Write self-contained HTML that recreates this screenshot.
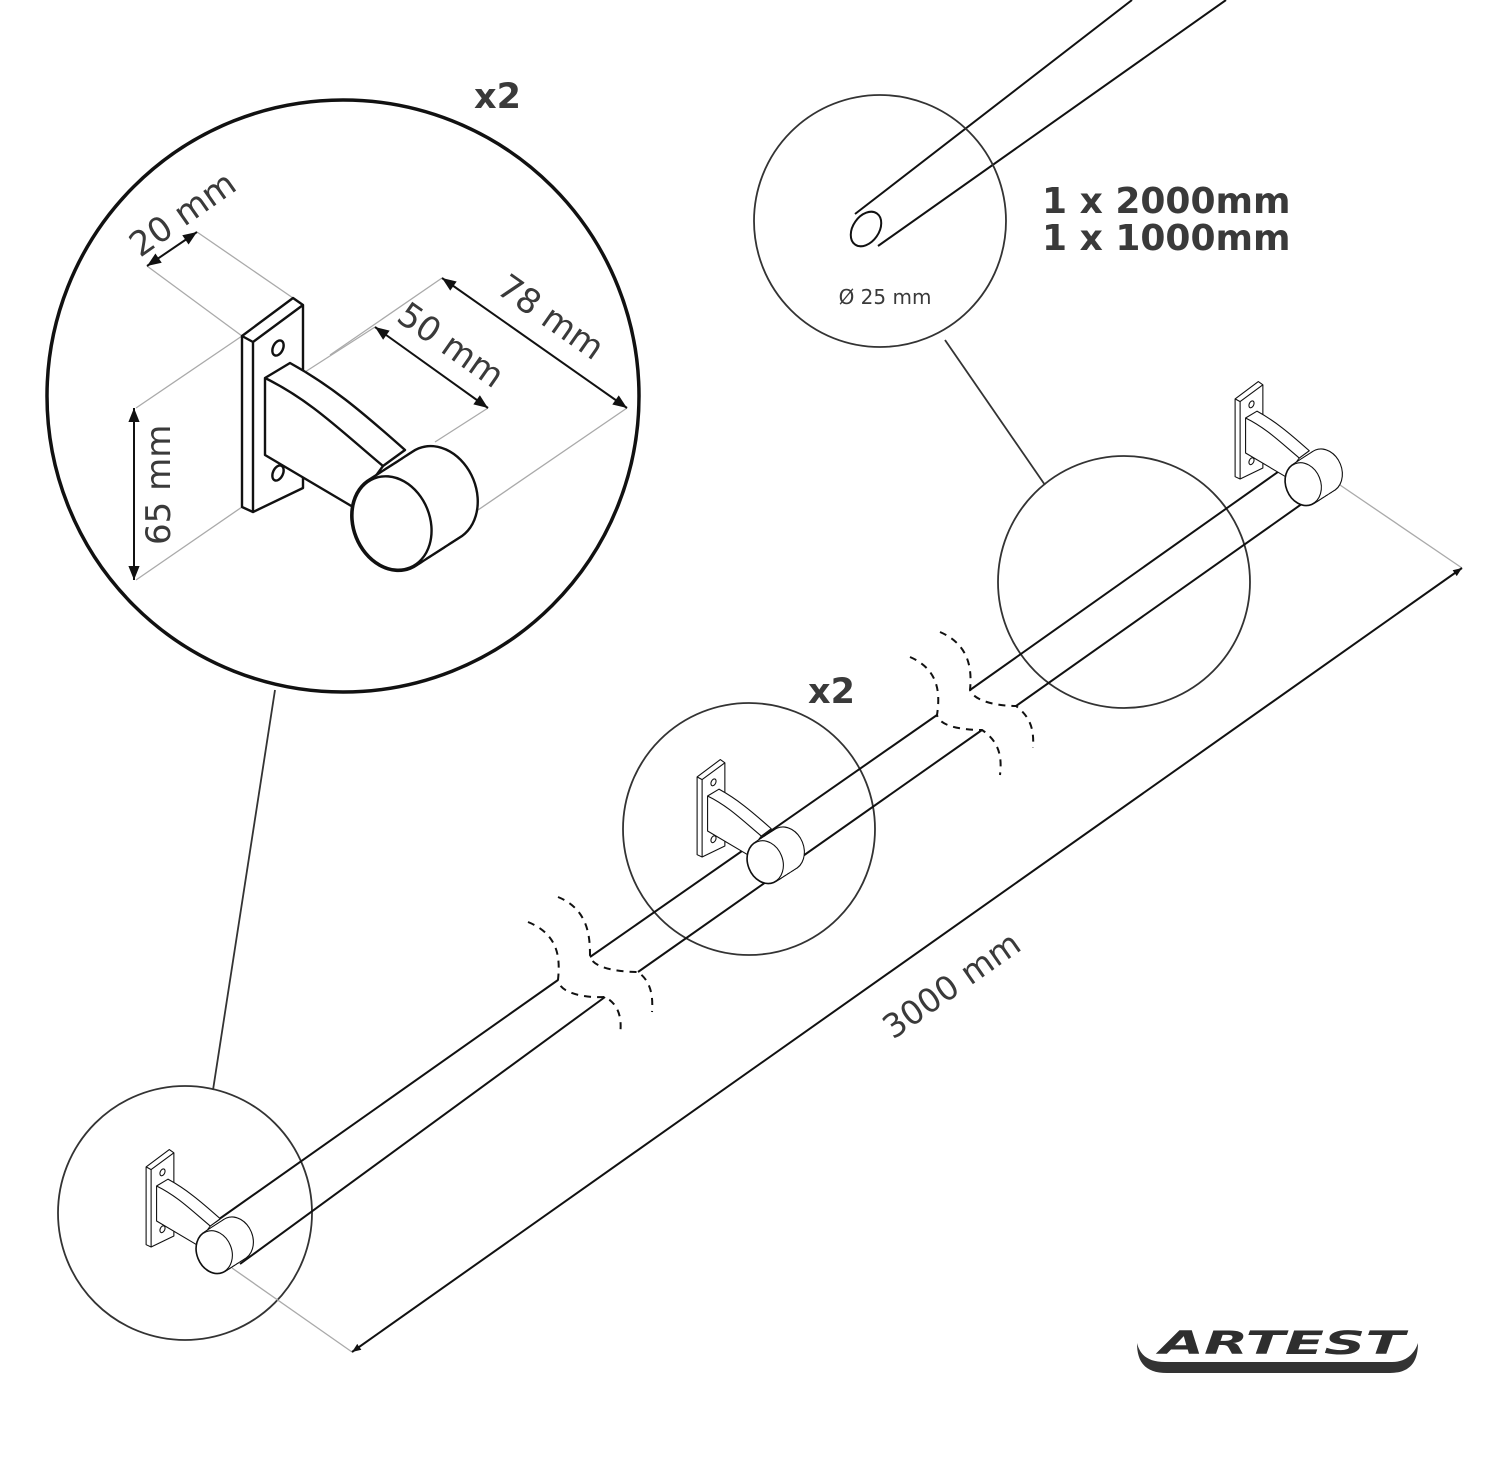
<!DOCTYPE html>
<html><head><meta charset="utf-8"><style>
html,body{margin:0;padding:0;background:#fff;}
svg{display:block}
text{font-family:"DejaVu Sans","Liberation Sans",sans-serif;fill:#3a3a3a}
</style></head><body>
<svg width="1500" height="1469" viewBox="0 0 1500 1469" xmlns="http://www.w3.org/2000/svg">
<defs>
<marker id="ar" viewBox="0 0 10 10" refX="10" refY="5" markerWidth="9" markerHeight="9" orient="auto-start-reverse" markerUnits="userSpaceOnUse"><path d="M0,1 L10,5 L0,9 Z" fill="#111"/></marker>
<marker id="ar2" viewBox="0 0 10 10" refX="10" refY="5" markerWidth="16" markerHeight="14" orient="auto-start-reverse" markerUnits="userSpaceOnUse"><path d="M0,1 L10,5 L0,9 Z" fill="#111"/></marker>
<g id="el"><ellipse cx="0" cy="0" rx="38" ry="48" transform="rotate(-22)"/></g>
<g id="br" fill="#fff" stroke="#111" stroke-width="2.4" stroke-linejoin="round">
  <path d="M242,336 L293,298 L303,305 L303,488 L253,512 L242,507 Z"/>
  <path d="M242,336 L253,342 L303,305 M253,342 L253,512" fill="none"/>
  <ellipse cx="278" cy="348" rx="5" ry="8" transform="rotate(25 278 348)"/>
  <ellipse cx="278" cy="473" rx="5" ry="8" transform="rotate(25 278 473)"/>
  <path d="M265,378 L290,363 C330,385 360,410 405,450 L383,466 L353,507 L265,455 Z"/>
  <path d="M265,378 C310,400 340,430 383,466" fill="none"/>
  <!-- ring: silhouette sweep -->
  <g stroke-width="4.8" fill="#fff">
    <use href="#el" x="437" y="494"/><use href="#el" x="432.5" y="496.9"/><use href="#el" x="428" y="499.8"/><use href="#el" x="423.5" y="502.7"/><use href="#el" x="419" y="505.6"/><use href="#el" x="414.5" y="508.5"/><use href="#el" x="410" y="511.4"/><use href="#el" x="405.5" y="514.3"/><use href="#el" x="401" y="517.2"/><use href="#el" x="396.5" y="520.1"/><use href="#el" x="392" y="523"/>
  </g>
  <g stroke="none" fill="#fff">
    <use href="#el" x="437" y="494"/><use href="#el" x="432.5" y="496.9"/><use href="#el" x="428" y="499.8"/><use href="#el" x="423.5" y="502.7"/><use href="#el" x="419" y="505.6"/><use href="#el" x="414.5" y="508.5"/><use href="#el" x="410" y="511.4"/><use href="#el" x="405.5" y="514.3"/><use href="#el" x="401" y="517.2"/><use href="#el" x="396.5" y="520.1"/>
  </g>
  <use href="#el" x="392" y="523"/>
</g>
</defs>

<!-- top rod -->
<g stroke="#111" stroke-width="2" fill="none">
<line x1="855" y1="214" x2="1132" y2="0"/>
<line x1="878" y1="246" x2="1226" y2="0"/>
<ellipse cx="866" cy="229" rx="13" ry="19" transform="rotate(35 866 229)" fill="#fff"/>
</g>
<circle cx="880" cy="221" r="126" fill="none" stroke="#333" stroke-width="1.8"/>
<text x="885" y="304" font-size="20" text-anchor="middle">Ø 25 mm</text>
<text x="1042" y="213" font-size="36" font-weight="bold">1 x 2000mm</text>
<text x="1042" y="250" font-size="36" font-weight="bold">1 x 1000mm</text>
<line x1="945" y1="340" x2="1045" y2="485" stroke="#333" stroke-width="1.8"/>

<!-- big circle -->
<circle cx="343" cy="396" r="296" fill="#fff" stroke="#111" stroke-width="3.5"/>
<text x="474" y="108" font-size="35" font-weight="bold">x2</text>
<line x1="275" y1="690" x2="213" y2="1090" stroke="#333" stroke-width="1.8"/>

<g stroke="#aaa" stroke-width="1.3">
<line x1="147" y1="266" x2="242" y2="336"/>
<line x1="197" y1="232" x2="293" y2="298"/>
<line x1="242" y1="336" x2="136" y2="408"/>
<line x1="242" y1="507" x2="136" y2="580"/>
<line x1="375" y1="327" x2="305" y2="372"/>
<line x1="442" y1="278" x2="330" y2="355"/>
<line x1="488" y1="408" x2="435" y2="442"/>
<line x1="627" y1="408" x2="478" y2="510"/>
</g>
<g stroke="#111" stroke-width="2">
<line x1="147" y1="266" x2="197" y2="232" marker-start="url(#ar2)" marker-end="url(#ar2)"/>
<line x1="134" y1="408" x2="134" y2="580" marker-start="url(#ar2)" marker-end="url(#ar2)"/>
<line x1="375" y1="327" x2="488" y2="408" marker-start="url(#ar2)" marker-end="url(#ar2)"/>
<line x1="442" y1="278" x2="627" y2="408" marker-start="url(#ar2)" marker-end="url(#ar2)"/>
</g>
<text font-size="34" transform="translate(140,258) rotate(-35)">20 mm</text>
<text font-size="34" transform="translate(170,545) rotate(-90)">65 mm</text>
<text font-size="34" transform="translate(395,320) rotate(35)">50 mm</text>
<text font-size="34" transform="translate(495,292) rotate(35)">78 mm</text>
<use href="#br"/>

<g fill="none" stroke="#333" stroke-width="1.8">
<circle cx="185" cy="1213" r="127"/>
<circle cx="749" cy="829" r="126"/>
<circle cx="1124" cy="582" r="126"/>
</g>
<text x="808" y="703" font-size="35" font-weight="bold">x2</text>

<g stroke="#aaa" stroke-width="1.3">
<line x1="232" y1="1268" x2="352" y2="1352"/>
<line x1="1340" y1="485" x2="1462" y2="568"/>
</g>
<line x1="352" y1="1352" x2="1462" y2="568" stroke="#111" stroke-width="2" marker-start="url(#ar)" marker-end="url(#ar)"/>
<text font-size="33" transform="translate(893,1040) rotate(-35)">3000 mm</text>

<g stroke="#111" stroke-width="2" fill="none">
<line x1="215" y1="1222" x2="558" y2="980"/>
<line x1="240" y1="1264" x2="605" y2="997"/>
<line x1="590" y1="957" x2="937" y2="715"/>
<line x1="638" y1="972" x2="982" y2="730"/>
<line x1="970" y1="690" x2="1292" y2="462"/>
<line x1="1016" y1="706" x2="1330" y2="484"/>
</g>
<g stroke="#111" stroke-width="2" fill="none" stroke-dasharray="7,6">
<path d="M528,922 C560,935 560,960 558,980 C560,995 590,998 605,997 C620,1005 622,1020 620,1035"/>
<path d="M558,897 C590,910 590,940 590,957 C595,970 625,972 638,972 C652,982 653,998 652,1012"/>
<path d="M910,657 C940,670 940,695 937,715 C940,728 968,730 982,730 C1000,742 1002,758 1000,775"/>
<path d="M940,632 C970,645 972,670 970,690 C975,703 1003,706 1016,706 C1032,718 1034,732 1033,748"/>
</g>

<g transform="translate(36,1014) scale(0.455)"><use href="#br"/></g>
<g transform="translate(587,624) scale(0.455)"><use href="#br"/></g>
<g transform="translate(1125,246) scale(0.455)"><use href="#br"/></g>

<g>
<path d="M1137,1343 C1137,1364 1147,1373 1167,1373 L1390,1373 C1410,1373 1418,1362 1418,1343 C1414,1355 1405,1362 1392,1362 L1165,1362 C1148,1362 1140,1355 1137,1343 Z" fill="#333"/>
<text x="1282" y="1354" font-size="32" font-weight="bold" text-anchor="middle" font-style="italic" style="fill:#2e2e2e" textLength="245" lengthAdjust="spacingAndGlyphs">ARTEST</text>
</g>
</svg>
</body></html>
